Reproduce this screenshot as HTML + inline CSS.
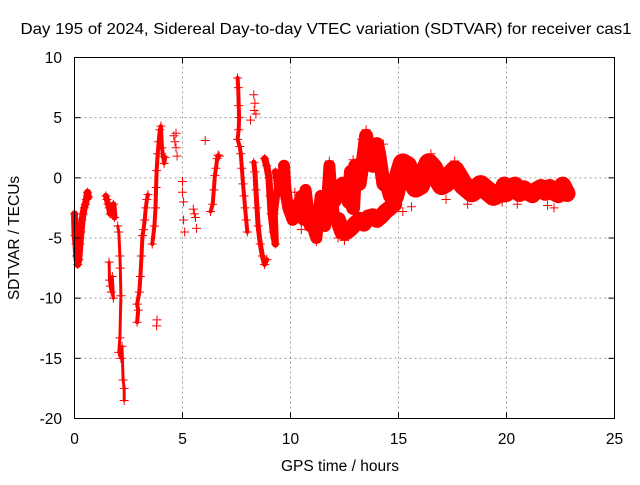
<!DOCTYPE html>
<html><head><meta charset="utf-8"><style>
body{margin:0;background:#fff;}
svg text{font-family:"Liberation Sans",sans-serif;font-size:15.5px;fill:#000;}
</style></head><body>
<svg id="chart" width="640" height="480" xmlns="http://www.w3.org/2000/svg">
<rect x="0" y="0" width="640" height="480" fill="#fff"/>
<g id="grid"></g>
<g id="series"></g>
<rect x="74.5" y="57.5" width="540" height="361" fill="none" stroke="#000" stroke-width="1"/>
<g id="ticks"></g>
<text x="326" y="34" text-anchor="middle" textLength="611" lengthAdjust="spacingAndGlyphs" style="font-size:16px">Day 195 of 2024, Sidereal Day-to-day VTEC variation (SDTVAR) for receiver cas1</text>
<text x="340" y="471" text-anchor="middle">GPS time / hours</text>
<text x="19" y="238" text-anchor="middle" transform="rotate(-90 19 238)">SDTVAR / TECUs</text>
</svg>
<script>
const xTicks=[0,5,10,15,20,25];
const yTicks=[-20,-15,-10,-5,0,5,10];
// tracks: [hour, value]
const track1=[[0,-3],[0.03,-4.8],[0.07,-5.5],[0.1,-6.5],[0.15,-7.2],[0.2,-6.8],[0.25,-5.5],[0.3,-4.5],[0.35,-3.5],[0.4,-3],[0.45,-2.5],[0.5,-2.2],[0.55,-1.8],[0.6,-1.2],[0.65,-1.6]];
const track2=[[1.45,-1.5],[1.5,-1.8],[1.55,-2.2],[1.6,-2.5],[1.65,-3],[1.7,-2.6],[1.8,-2.2],[1.85,-3.3]];
const track3=[[1.6,-7],[1.62,-8.5],[1.65,-9],[1.7,-9.5],[1.75,-8.2],[1.8,-10]];
const track4=[[2.0,-4],[2.05,-4.5],[2.1,-6.5],[2.12,-7.5],[2.15,-9.8],[2.1,-13.3],[2.05,-14.5],[2.15,-15],[2.2,-14],[2.25,-16.8],[2.3,-17.5],[2.3,-18.5]];
const track5=[[2.9,-12],[2.95,-11],[2.9,-10.5],[3.0,-9.5],[3.05,-8.2],[3.1,-6.5],[3.15,-4.8],[3.2,-4.3],[3.25,-3.5],[3.3,-2.5],[3.35,-1.8],[3.4,-1.4]];
const track6=[[3.6,-5.5],[3.7,-4],[3.75,-2.5],[3.78,-0.8],[3.8,0.6],[3.85,2],[3.9,3],[3.95,4],[4.0,4.3],[4.05,2.5],[4.1,1.8],[4.15,1.2],[4.2,1.7]];
const scatter1=[[3.8,-12.3],[3.82,-11.8],[4.6,3.5],[4.65,3],[4.7,2.5],[4.75,1.8],[4.7,3.7],[5.0,-0.3],[5.0,-1.2],[5.05,-2],[5.05,-3.5],[5.1,-4.5],[5.5,-2.6],[5.55,-3],[5.6,-3.3],[5.65,-4.2],[6.05,3.1],[8.15,4.8],[8.3,6.9],[8.35,6.2],[8.4,5.3],[8.32,5.6]];
const track7=[[6.3,-2.8],[6.4,-2.2],[6.45,-1],[6.5,0.2],[6.55,0.8],[6.6,1.6],[6.65,1.9],[6.7,1.8]];
const track8=[[7.55,8.3],[7.58,7.5],[7.6,6],[7.62,5],[7.6,4],[7.55,3.2],[7.65,2.6],[7.7,2],[7.75,0.8],[7.8,-0.5],[7.85,-1.5],[7.9,-2.5],[7.95,-3.5],[8.0,-4.5]];
const track9=[[8.3,1.3],[8.35,0.5],[8.4,-1],[8.45,-2.5],[8.5,-4],[8.6,-5.5],[8.7,-6.5],[8.8,-7.2],[8.9,-6.8]];
const track10=[[8.8,1.6],[8.9,1],[9.0,0],[9.05,-1.5],[9.1,-3],[9.2,-4.5],[9.3,-5.5],[9.25,-3],[9.35,-1.5],[9.4,-0.5],[9.3,0.5]];
const track11=[[9.7,1],[9.75,-0.5],[9.8,-1.5],[9.9,-2.5],[10.0,-3],[10.1,-3.5],[10.2,-3],[10.4,-2],[10.5,-1.5],[10.6,-3.5],[10.7,-1],[10.8,-2.5],[10.9,-4],[11.0,-3],[11.1,-4.5],[11.2,-5],[11.3,-3],[11.4,-1.5],[11.5,-2.5],[11.6,-4],[11.7,-2],[11.8,1],[11.9,-1.5],[12.0,-3]];
const track12=[[12.0,-2],[12.2,-1.5],[12.4,-0.5],[12.6,-1],[12.7,-2],[12.8,0.5],[12.9,-2.5],[13.0,1],[13.2,-0.5],[13.4,2],[13.5,3.5],[13.6,2.5],[13.8,1],[14.0,2.8],[14.1,2],[14.3,-0.5],[14.5,-0.8],[14.6,-1.5],[14.8,-1]];
const track13=[[12.2,-3.5],[12.4,-4.5],[12.6,-4.5],[12.8,-4.2],[13.0,-3.8],[13.2,-3.5],[13.4,-3.8],[13.6,-3.3],[13.8,-3.2],[14.0,-3.5],[14.2,-3.2],[14.4,-2.8],[14.6,-2.5],[14.8,-2.2]];
const track14=[[14.8,-1.5],[15.0,0],[15.2,1.2],[15.4,1],[15.6,0],[15.8,-0.8],[16.0,-0.6],[16.2,0.4],[16.4,1.2],[16.6,0.8],[16.8,0],[17.0,-0.6],[17.2,-0.4],[17.4,0.2],[17.6,0.6],[17.8,0],[18.0,-0.6],[18.2,-0.9],[18.4,-1.2],[18.6,-0.9],[18.8,-0.6],[19.0,-0.9],[19.2,-1.2],[19.4,-1.5],[19.6,-1.3]];
const track15=[[19.9,-0.6],[20.0,-1.3],[20.2,-1],[20.4,-0.6],[20.6,-1.3],[20.8,-0.9],[21.0,-1.2],[21.2,-1.4],[21.4,-1],[21.6,-0.8],[21.8,-1.2],[22.0,-0.8],[22.2,-1.2],[22.4,-1.4],[22.6,-0.6],[22.8,-1.3]];
const scatter2=[[22.2,-2.5],[20.5,-2.2],[15.2,-2.8],[15.6,-2.4],[17.2,-1.8],[18.2,-2.2],[13.5,4],[13.3,3.2],[12.2,-5],[12.5,-5.2],[11.2,-5.3],[10.5,-4.3],[14.3,2.8],[16.5,2],[17.6,1.4],[19.8,-2],[21.9,-2.3],[12.9,1.5],[11.8,1.4],[10.2,-1.2]];
const tracks=[[track1,7],[track2,6],[track3,3],[track4,3],[track5,4],[track6,4],[scatter1,0],[track7,4],[track8,4],[track9,5],[track10,7],[track11,12],[track12,14],[track13,16],[track14,20],[track15,17],[scatter2,0]];

const X0=74.5,X1=614.5,Y0=418.5,Y1=57.5;
function xs(v){return X0+(v-0)/(25-0)*(X1-X0);}
function ys(v){return Y0-(v+20)/(30)*(Y0-Y1);}
const NS="http://www.w3.org/2000/svg";
const grid=document.getElementById('grid'),ticks=document.getElementById('ticks'),ser=document.getElementById('series');
function mk(tag,at,parent){const e=document.createElementNS(NS,tag);for(const k in at)e.setAttribute(k,at[k]);parent.appendChild(e);return e;}
xTicks.forEach(t=>{const x=xs(t);
 if(t>0&&t<25){const g=mk('line',{x1:x,x2:x,y1:Y0,y2:Y1,stroke:'#a0a0a0','stroke-dasharray':'2,3'},grid);
 
 }
 mk('line',{x1:x,x2:x,y1:Y0,y2:Y0-6,stroke:'#000'},ticks);
 mk('line',{x1:x,x2:x,y1:Y1,y2:Y1+6,stroke:'#000'},ticks);
 const l=mk('text',{x:x,y:444,'text-anchor':'middle'},ticks);l.textContent=t;
 
 
});
yTicks.forEach(t=>{const y=ys(t);
 if(t>-20&&t<10){const g=mk('line',{x1:X0,x2:X1,y1:y,y2:y,stroke:'#a0a0a0','stroke-dasharray':'2,3'},grid);
 
 }
 mk('line',{x1:X0,x2:X0+6,y1:y,y2:y,stroke:'#000'},ticks);
 mk('line',{x1:X1,x2:X1-6,y1:y,y2:y,stroke:'#000'},ticks);
 const l=mk('text',{x:62,y:y+5.5,'text-anchor':'end'},ticks);l.textContent=t;
 
 
});
tracks.forEach(([pts,w])=>{
 if(w>0){const d=pts.map((p,i)=>(i?'L':'M')+xs(p[0]).toFixed(1)+','+ys(p[1]).toFixed(1)).join('');
  const pa=mk('path',{d:d,fill:'none',stroke:'#f00','stroke-width':w,'stroke-linejoin':'round','stroke-linecap':'round'},ser);
  
  }
 pts.forEach(p=>{const x=xs(p[0]),y=ys(p[1]);
  const m=mk('path',{d:`M${x-4.5},${y}H${x+4.5}M${x},${y-4.5}V${y+4.5}`,stroke:'#f00','stroke-width':1},ser);
  
  
 });
});
</script>
</body></html>
